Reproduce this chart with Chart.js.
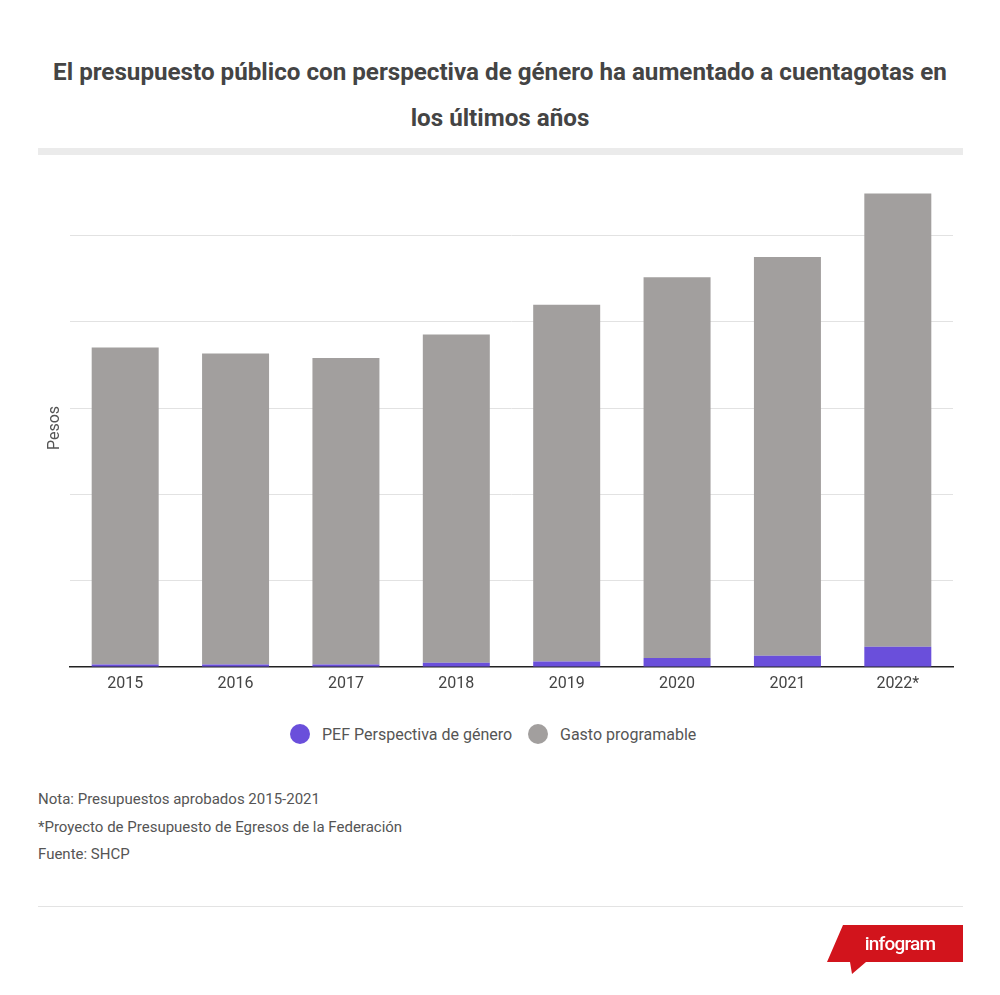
<!DOCTYPE html>
<html>
<head>
<meta charset="utf-8">
<script src="https://cdn.jsdelivr.net/npm/chart.js@4/dist/chart.umd.min.js"></script>
<style>
  html,body{margin:0;padding:0;background:#fff;}
  body{width:1000px;height:995px;position:relative;overflow:hidden;font-family:Roboto,"Noto Sans",sans-serif;}
  .title{position:absolute;left:0;width:1000px;text-align:center;font-size:24.2px;font-weight:700;color:#444;line-height:28px;}
  #band{position:absolute;left:38px;top:148px;width:925px;height:7px;background:#ebebeb;}
  #wrap{position:absolute;left:0;top:140px;width:1000px;height:557px;}
  #pesos{position:absolute;left:53px;top:428px;transform:translate(-50%,-50%) rotate(-90deg);font-size:16px;color:#555;white-space:nowrap;}
  #legend{position:absolute;top:722px;left:0;width:1000px;height:24px;}
  .li{position:absolute;top:0;height:24px;display:flex;align-items:center;font-size:16px;color:#555;white-space:nowrap;}
  .dot{width:20px;height:20px;border-radius:50%;margin-right:12px;}
  .note{position:absolute;left:38px;font-size:15px;color:#555;white-space:nowrap;}
  #rule{position:absolute;left:38px;top:906px;width:925px;height:1px;background:#e3e3e3;}
  #logo{position:absolute;left:0;top:0;}
</style>
</head>
<body>
<div class="title" style="top:58px;">El presupuesto público con perspectiva de género ha aumentado a cuentagotas en</div>
<div class="title" style="top:104px;">los últimos años</div>
<div id="wrap"><canvas id="c"></canvas></div>
<div id="band"></div>
<div id="pesos">Pesos</div>
<div id="legend"></div>
<div class="note" style="top:790px;">Nota: Presupuestos aprobados 2015-2021</div>
<div class="note" style="top:818px;">*Proyecto de Presupuesto de Egresos de la Federación</div>
<div class="note" style="top:845px;">Fuente: SHCP</div>
<div id="rule"></div>
<svg id="logo" width="1000" height="995">
  <polygon points="843,925 963,925 963,962 866,962 852,974 850,962 827,962" fill="#d2141c"/>
  <text x="900" y="950" text-anchor="middle" fill="#fff" font-family="Roboto" font-weight="500" font-size="19" letter-spacing="-0.8">infogram</text>
</svg>
<script>
// Data (trillions of pesos)
const categories = ["2015","2016","2017","2018","2019","2020","2021","2022*"];
const pefGenero = [0.03, 0.03, 0.03, 0.05, 0.065, 0.105, 0.13, 0.235];
const gastoProgramable = [3.67, 3.60, 3.55, 3.80, 4.13, 4.41, 4.62, 5.25];
const seriesNames = ["PEF Perspectiva de género", "Gasto programable"];
const seriesColors = ["#6a4fdb", "#a29f9e"];
const yTicks = [0, 1, 2, 3, 4, 5, 6];

const chart = new Chart(document.getElementById('c'), {
  type: 'bar',
  data: {
    labels: categories,
    datasets: [
      {label: seriesNames[0], data: pefGenero, backgroundColor: seriesColors[0], stack: 's'},
      {label: seriesNames[1], data: gastoProgramable, backgroundColor: seriesColors[1], stack: 's'}
    ]
  },
  options: {
    responsive: true,
    maintainAspectRatio: false,
    animation: false,
    layout: {padding: {left: 70, right: 47, top: 9, bottom: 0}},
    plugins: {legend: {display: false}, tooltip: {enabled: false}},
    datasets: {bar: {categoryPercentage: 1, barPercentage: 0.607}},
    scales: {
      x: {
        stacked: true,
        grid: {display: false, drawTicks: false},
        border: {display: true, color: '#222', width: 1.5},
        ticks: {padding: 7, color: '#444', font: {family: 'Roboto', size: 16}},
        afterFit: s => { s.height = 30; }
      },
      y: {
        stacked: true,
        min: yTicks[0], max: yTicks[yTicks.length - 1],
        afterBuildTicks: s => { s.ticks = yTicks.map(v => ({value: v})); },
        ticks: {display: false},
        grid: {
          drawTicks: false,
          color: ctx => (ctx.tick && (ctx.tick.value === 0 || ctx.tick.value === yTicks[yTicks.length-1])) ? 'rgba(0,0,0,0)' : '#e2e2e2',
          lineWidth: 1
        },
        border: {display: false},
        afterFit: s => { s.width = 0; }
      }
    }
  }
});

// HTML legend built from the series arrays
const lg = document.getElementById('legend');
const lefts = [290, 528];
seriesNames.forEach((n, i) => {
  const d = document.createElement('div');
  d.className = 'li';
  d.style.left = lefts[i] + 'px';
  d.innerHTML = '<span class="dot" style="background:' + seriesColors[i] + '"></span>' + n;
  lg.appendChild(d);
});
</script>
</body>
</html>
